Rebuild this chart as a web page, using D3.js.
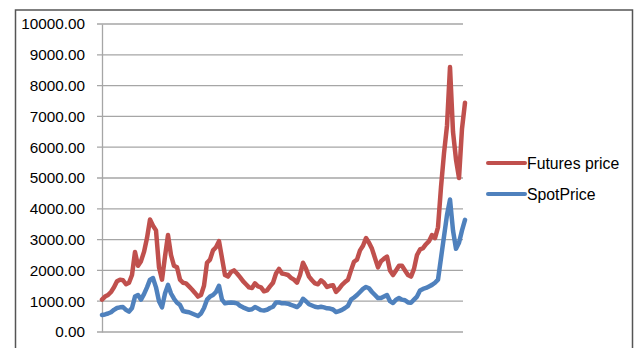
<!DOCTYPE html>
<html>
<head>
<meta charset="utf-8">
<script src="https://cdn.jsdelivr.net/npm/d3@7/dist/d3.min.js"></script>
<style>
  html, body { margin: 0; padding: 0; background: #ffffff; }
  svg { display: block; }
  text { font-family: "Liberation Sans", Arial, sans-serif; fill: #000; }
</style>
</head>
<body>
<svg id="chart" width="634" height="348"></svg>
<script>
// Futures and spot prices, one value per observation (equal spacing)
const futuresPrice = [
  1050, 1150, 1200, 1300, 1450, 1650, 1700, 1680, 1550, 1600,
  1850, 2600, 2150, 2300, 2600, 3050, 3650, 3450, 3300, 2100,
  1700, 2450, 3150, 2500, 2150, 2100, 1700, 1600, 1580, 1480,
  1380, 1270, 1150, 1200, 1500, 2250, 2350, 2650, 2750, 2950,
  2400, 1850, 1800, 1950, 2000, 1900, 1780, 1650, 1550, 1450,
  1430, 1580, 1480, 1450, 1320, 1350, 1480, 1600, 1900, 2050,
  1900, 1880, 1850, 1760, 1700, 1600, 1850, 2250, 2050, 1800,
  1680, 1580, 1550, 1680, 1600, 1460, 1500, 1520, 1300, 1400,
  1530, 1620, 1700, 2000, 2280, 2350, 2650, 2800, 3050, 2900,
  2700, 2400, 2100, 2300, 2380, 2450, 2000, 1850, 2000, 2150,
  2150, 2000, 1850, 1800, 2050, 2500, 2680, 2720, 2850, 2950,
  3150, 3050, 3400, 4700, 5800, 6700, 8600, 6500, 5600, 5000,
  6600, 7440
];
const spotPrice = [
  550, 570, 600, 640, 720, 780, 800, 810, 720, 660,
  780, 1150, 1200, 1050, 1230, 1450, 1700, 1750, 1450, 1000,
  800, 1250, 1530, 1250, 1080, 950, 880, 680, 660, 640,
  600, 560, 520, 600, 780, 1050, 1150, 1200, 1300, 1500,
  1050, 930, 950, 960, 950, 930, 850, 800, 760, 720,
  740, 810, 760, 710, 700, 720, 780, 820, 960, 960,
  930, 930, 920, 880, 850, 810, 900, 1080, 1000, 900,
  860, 820, 800, 820, 800, 770, 760, 730, 650, 680,
  720, 780, 850, 1050, 1120, 1200, 1300, 1400, 1460, 1420,
  1300, 1200, 1100, 1100, 1150, 1200, 1000, 940, 1050, 1100,
  1050, 1030, 960, 950, 1050, 1150, 1350, 1400, 1430, 1480,
  1530, 1600, 1700, 2400, 3100, 3800, 4300, 3300, 2700, 2900,
  3300, 3640
];
const yTicks = [0, 1000, 2000, 3000, 4000, 5000, 6000, 7000, 8000, 9000, 10000];
const seriesNames = ["Futures price", "SpotPrice"];
const seriesColors = ["#C0504D", "#4F81BD"];

const svg = d3.select("#chart");

// outer chart frame (open at the bottom)
svg.append("path")
  .attr("d", "M15.5,348 V10 H632.5 V348")
  .attr("fill", "none")
  .attr("stroke", "#555555")
  .attr("stroke-width", 1.5);

const plot = { left: 102, right: 463, top: 24, bottom: 332 };

const x = d3.scaleLinear()
  .domain([0, futuresPrice.length - 1])
  .range([plot.left, plot.right + 2]);

const y = d3.scaleLinear()
  .domain([0, 10000])
  .range([plot.bottom, plot.top]);

// horizontal gridlines
svg.append("g")
  .selectAll("line")
  .data(yTicks)
  .join("line")
  .attr("x1", plot.left - 5)
  .attr("x2", plot.right)
  .attr("y1", d => y(d))
  .attr("y2", d => y(d))
  .attr("stroke", "#a6a6a6")
  .attr("stroke-width", 1.3);

// value axis
const yAxis = d3.axisLeft(y)
  .tickValues(yTicks)
  .tickFormat(d3.format(".2f"))
  .tickSize(0)
  .tickPadding(17);

const gy = svg.append("g")
  .attr("transform", `translate(${plot.left},0)`)
  .call(yAxis);
gy.select(".domain")
  .attr("stroke", "#a6a6a6")
  .attr("stroke-width", 1.3);
gy.selectAll("text")
  .style("font-family", "'Liberation Sans', Arial, sans-serif")
  .style("font-size", "15.3px")
  .attr("fill", "#000");

// price lines
const line = d3.line()
  .x((d, i) => x(i))
  .y(d => y(d))
  .curve(d3.curveLinear);

[futuresPrice, spotPrice].forEach((vals, k) => {
  svg.append("path")
    .datum(vals)
    .attr("fill", "none")
    .attr("stroke", seriesColors[k])
    .attr("stroke-width", 4.5)
    .attr("stroke-linejoin", "round")
    .attr("stroke-linecap", "round")
    .attr("d", line);
});

// legend
const legend = svg.append("g").attr("transform", "translate(488,163)");
seriesNames.forEach((name, k) => {
  const g = legend.append("g").attr("transform", `translate(0,${k * 31})`);
  g.append("line")
    .attr("x1", 0).attr("x2", 37)
    .attr("y1", 0).attr("y2", 0)
    .attr("stroke", seriesColors[k])
    .attr("stroke-width", 4)
    .attr("stroke-linecap", "round");
  g.append("text")
    .attr("x", 39)
    .attr("y", 5.5)
    .style("font-size", "15.8px")
    .text(name);
});
</script>
</body>
</html>
